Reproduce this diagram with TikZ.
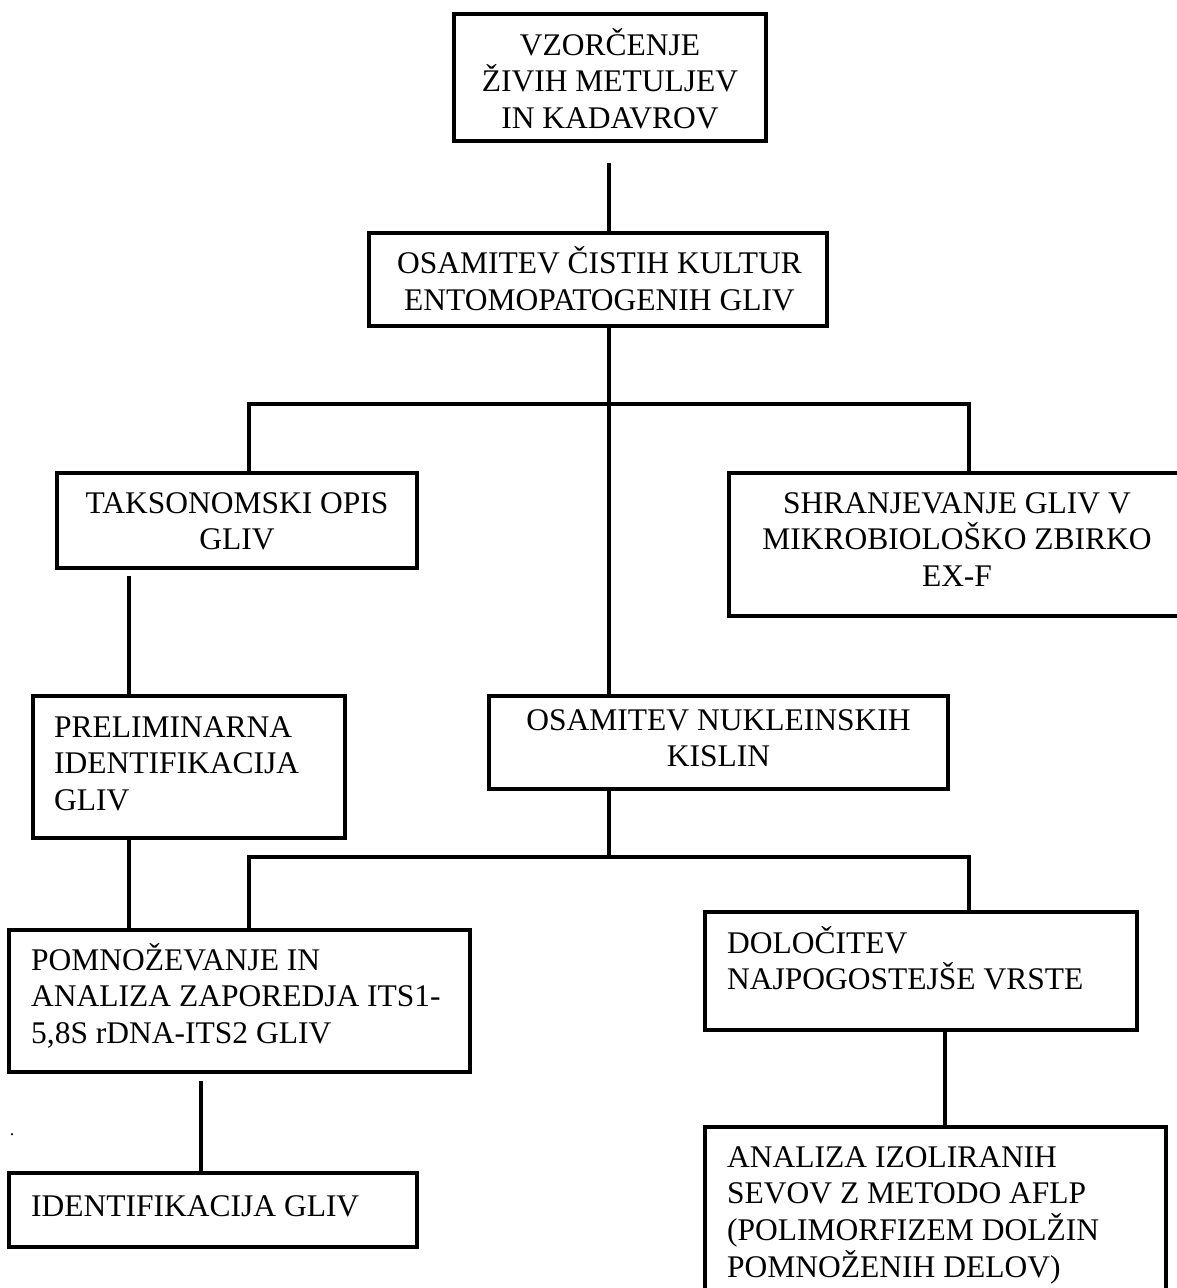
\documentclass[tikz,border=0pt]{standalone}
\usepackage{fontspec}
\setmainfont{Liberation Serif}
\begin{document}
\begin{tikzpicture}[x=1pt,y=-1pt,
  box/.style={draw, line width=4pt, inner sep=0pt, rectangle},
  conn/.style={line width=4pt},
  ctxt/.style={font=\fontsize{31.5}{36.8}\selectfont, inner sep=0pt, anchor=base, align=center},
  ltxt/.style={font=\fontsize{31.5}{36.8}\selectfont, inner sep=0pt, anchor=base west, align=left}]
\useasboundingbox (0,0) rectangle (1177,1288);
\clip (0,0) rectangle (1177,1288);

% boxes
\node[box, minimum width=312pt, minimum height=127pt] (A) at (610,77.5) {};
\node[box, minimum width=458pt, minimum height=93pt] (B) at (598,279.5) {};
\node[box, minimum width=360pt, minimum height=95pt] (C) at (237,520.5) {};
\node[box, minimum width=456pt, minimum height=143pt] (D) at (957,544.5) {};
\node[box, minimum width=312pt, minimum height=142pt] (E) at (189,767) {};
\node[box, minimum width=459pt, minimum height=93pt] (F) at (718.5,742.5) {};
\node[box, minimum width=461pt, minimum height=142pt] (G) at (239.5,1001) {};
\node[box, minimum width=408pt, minimum height=74pt] (H) at (213,1210) {};
\node[box, minimum width=432pt, minimum height=118pt] (I) at (921,971) {};
\node[box, minimum width=461pt, minimum height=180pt] (J) at (935.5,1217) {};

% texts (anchor = baseline of the last line)
\node[ctxt] (tA) at (610,128.6) {VZORČENJE\\ŽIVIH METULJEV\\IN KADAVROV};
\node[ctxt] (tB) at (599.5,310.5) {OSAMITEV ČISTIH KULTUR\\ENTOMOPATOGENIH GLIV};
\node[ctxt] (tC) at (237,549.8) {TAKSONOMSKI OPIS\\GLIV};
\node[ctxt] (tD) at (957,586.6) {SHRANJEVANJE GLIV V\\MIKROBIOLOŠKO ZBIRKO\\EX-F};
\node[ltxt] (tE) at (54,810.6) {PRELIMINARNA\\IDENTIFIKACIJA\\GLIV};
\node[ctxt] (tF) at (718.5,766.8) {OSAMITEV NUKLEINSKIH\\KISLIN};
\node[ltxt] (tG) at (31,1043.6) {POMNOŽEVANJE IN\\ANALIZA ZAPOREDJA ITS1-\\5,8S rDNA-ITS2 GLIV};
\node[ltxt] (tH) at (31,1216) {IDENTIFIKACIJA GLIV};
\node[ltxt] (tI) at (727,989.8) {DOLOČITEV\\NAJPOGOSTEJŠE VRSTE};
\node[ltxt] (tJ) at (727,1277.4) {ANALIZA IZOLIRANIH\\SEVOV Z METODO AFLP\\(POLIMORFIZEM DOLŽIN\\POMNOŽENIH DELOV)};
\node[font=\fontsize{18}{18}\selectfont, inner sep=0pt, anchor=base] (dot) at (12,1135) {.};

% connector positions
\coordinate (xA) at (609,0);
\coordinate (j1) at (609,404);
\coordinate (j1L) at (249,404);
\coordinate (j1R) at (969,404);
\coordinate (xCE) at (129,0);
\coordinate (j2) at (609,857);
\coordinate (j2L) at (249,857);
\coordinate (j2R) at (969,857);
\coordinate (xGH) at (201,0);
\coordinate (xIJ) at (945,0);

% connectors
\draw[conn] ([yshift=-20pt]A.south -| xA) -- (B.north -| xA);
\draw[conn] (B.south -| j1) -- (F.north -| j1);
\draw[conn] (C.north -| j1L) -- (j1L) -- (j1R) -- (D.north -| j1R);
\draw[conn] ([yshift=-6pt]C.south -| xCE) -- (E.north -| xCE);
\draw[conn] (E.south -| xCE) -- ([yshift=-4pt]G.north -| xCE);
\draw[conn] (F.south -| j2) -- (j2);
\draw[conn] (G.north -| j2L) -- (j2L) -- (j2R) -- (I.north -| j2R);
\draw[conn] ([yshift=-7pt]G.south -| xGH) -- (H.north -| xGH);
\draw[conn] (I.south -| xIJ) -- (J.north -| xIJ);
\end{tikzpicture}
\end{document}
